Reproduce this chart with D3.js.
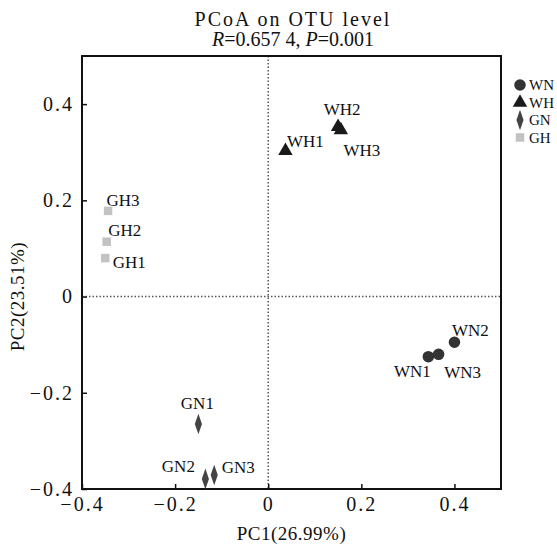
<!DOCTYPE html>
<html>
<head>
<meta charset="utf-8" />
<title>PCoA on OTU level</title>
<script src="https://cdn.jsdelivr.net/npm/d3@7"></script>
<style>
    body { margin: 0px; background: #fff; }
    text { font-family: "Liberation Serif", "DejaVu Serif", serif; fill: #111; }
</style>
</head>
<body>
<div id="chart"></div>
<script>

    // sample data
    var samples = ['WN1','WN2','WN3','WH1','WH2','WH3','GN1','GN2','GN3','GH1','GH2','GH3'];
    var groups  = ['WN','WN','WN','WH','WH','WH','GN','GN','GN','GH','GH','GH'];
    var pc1 = [0.344, 0.400, 0.366, 0.037, 0.150, 0.156, -0.150, -0.135, -0.116, -0.350, -0.347, -0.344];
    var pc2 = [-0.125, -0.095, -0.120, 0.303, 0.353, 0.346, -0.265, -0.379, -0.371, 0.080, 0.114, 0.178];

    var legendGroups = ['WN','WH','GN','GH'];
    var xTicks = [-0.4, -0.2, 0, 0.2, 0.4];
    var yTicks = [-0.4, -0.2, 0, 0.2, 0.4];

    var W = 557, H = 546;
    var m = {left: 82, right: 56, top: 56, bottom: 57};

    var svg = d3.select('#chart').append('svg')
            .attr('width', W)
            .attr('height', H);

    var x = d3.scaleLinear().domain([-0.4, 0.5]).range([m.left, W - m.right]);
    var y = d3.scaleLinear().domain([-0.4, 0.5]).range([H - m.bottom, m.top]);

    var fmt = function(d) { return d === 0 ? '0' : d3.format('.1f')(d).replace('-', '\u2212'); };

    // symbol per group
    var shapes = {
        WN: d3.symbol().type(d3.symbolCircle).size(105),
        WH: d3.symbol().type(d3.symbolTriangle).size(90),
        GN: d3.symbol().type(d3.symbolDiamond).size(78),
        GH: d3.symbol().type(d3.symbolSquare).size(72)
    };
    var colors = {WN: '#333', WH: '#1a1a1a', GN: '#444', GH: '#c2c2c2'};

    // label placement (pixel offsets from the point)
    var labelOffsets = {
        WN1: [-16, 15], WN2: [16, -12], WN3: [24, 18],
        WH1: [20, -9], WH2: [4, -17], WH3: [21, 20],
        GN1: [-1, -21], GN2: [-27, -12], GN3: [24, -8],
        GH1: [24, 4], GH2: [18, -11], GH3: [15, -10]
    };

    // zero lines
    svg.append('line')
            .attr('x1', x(0)).attr('x2', x(0))
            .attr('y1', y(0.5)).attr('y2', y(-0.4))
            .style('stroke', '#555').style('stroke-width', 1.5)
            .style('stroke-dasharray', '1.5,2');
    svg.append('line')
            .attr('x1', x(-0.4)).attr('x2', x(0.5))
            .attr('y1', y(0)).attr('y2', y(0))
            .style('stroke', '#555').style('stroke-width', 1.5)
            .style('stroke-dasharray', '1.5,2');

    // axes, ticks inward
    var xAxis = svg.append('g')
            .attr('transform', 'translate(0,' + y(-0.4) + ')')
            .call(d3.axisBottom(x).tickValues(xTicks).tickSizeInner(-5).tickSizeOuter(0).tickFormat(fmt));
    var yAxis = svg.append('g')
            .attr('transform', 'translate(' + x(-0.4) + ',0)')
            .call(d3.axisLeft(y).tickValues(yTicks).tickSizeInner(-5).tickSizeOuter(0).tickFormat(fmt));

    [xAxis, yAxis].forEach(function(a) {
        a.select('.domain').remove();
        a.selectAll('.tick line').style('stroke', '#111').style('stroke-width', 1.5);
        a.selectAll('.tick text')
                .style('font-family', '"Liberation Serif", serif')
                .style('font-size', '20px')
                .style('letter-spacing', '2px')
                .attr('fill', '#111');
    });
    xAxis.selectAll('.tick text').attr('y', 8).attr('dy', '0.71em');
    yAxis.selectAll('.tick text').attr('x', -8);

    // frame
    svg.append('rect')
            .attr('x', x(-0.4)).attr('y', y(0.5))
            .attr('width', x(0.5) - x(-0.4))
            .attr('height', y(-0.4) - y(0.5))
            .style('fill', 'none').style('stroke', '#111').style('stroke-width', 2);

    // points
    var pts = d3.range(samples.length);
    svg.append('g').selectAll('path')
            .data(pts)
            .enter().append('path')
            .attr('d', function(i) { return shapes[groups[i]](); })
            .attr('transform', function(i) {
                var s = groups[i] === 'GN' ? ' scale(0.75,1.25)' : '';
                return 'translate(' + x(pc1[i]) + ',' + y(pc2[i]) + ')' + s;
            })
            .style('fill', function(i) { return colors[groups[i]]; });

    svg.append('g').selectAll('text')
            .data(pts)
            .enter().append('text')
            .attr('x', function(i) { return x(pc1[i]) + labelOffsets[samples[i]][0]; })
            .attr('y', function(i) { return y(pc2[i]) + labelOffsets[samples[i]][1]; })
            .attr('text-anchor', 'middle')
            .attr('dominant-baseline', 'central')
            .style('font-size', '17px')
            .text(function(i) { return samples[i]; });

    // legend
    var lg = svg.append('g').attr('transform', 'translate(520,85)');
    legendGroups.forEach(function(g, k) {
        var row = lg.append('g').attr('transform', 'translate(0,' + (k * 17.5) + ')');
        row.append('path')
                .attr('d', shapes[g]())
                .attr('transform', g === 'GN' ? 'scale(0.75,1.25)' : null)
                .style('fill', colors[g]);
        row.append('text')
                .attr('x', 9)
                .attr('dominant-baseline', 'central')
                .style('font-size', '15px')
                .text(g);
    });

    // titles
    svg.append('text')
            .attr('x', 293).attr('y', 26)
            .attr('text-anchor', 'middle')
            .style('font-size', '20px')
            .style('letter-spacing', '2px')
            .text('PCoA on OTU level');

    var t2 = svg.append('text')
            .attr('x', 293).attr('y', 46)
            .attr('text-anchor', 'middle')
            .style('font-size', '20px');
    t2.append('tspan').style('font-style', 'italic').text('R');
    t2.append('tspan').text('=0.657 4, ');
    t2.append('tspan').style('font-style', 'italic').text('P');
    t2.append('tspan').text('=0.001');

    svg.append('text')
            .attr('x', (x(-0.4) + x(0.5)) / 2).attr('y', 540)
            .attr('text-anchor', 'middle')
            .style('font-size', '19px')
            .style('letter-spacing', '0.5px')
            .text('PC1(26.99%)');

    svg.append('text')
            .attr('transform', 'translate(24,' + y(0) + ') rotate(-90)')
            .attr('text-anchor', 'middle')
            .style('font-size', '19px')
            .style('letter-spacing', '0.5px')
            .text('PC2(23.51%)');

</script>
</body>
</html>
